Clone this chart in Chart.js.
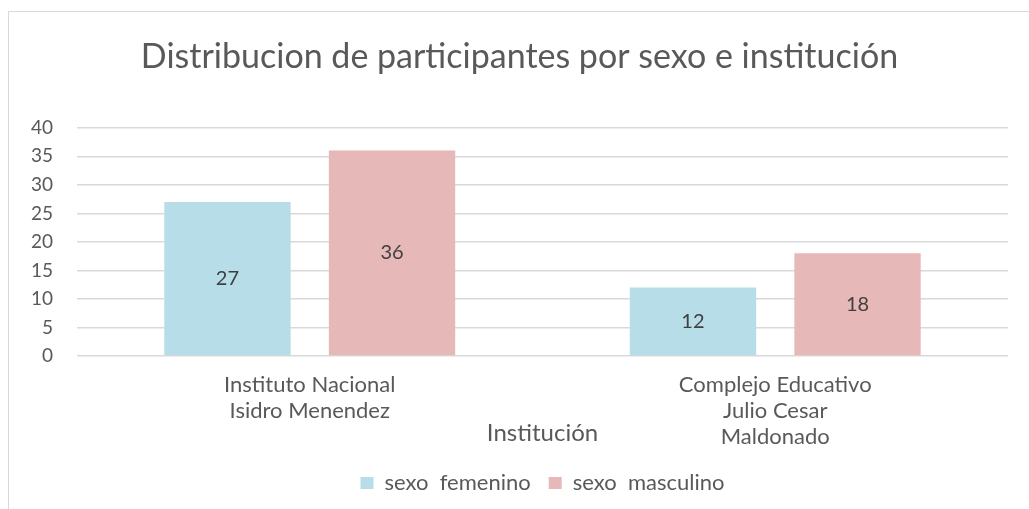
<!DOCTYPE html>
<html>
<head>
<meta charset="utf-8">
<script src="https://cdn.jsdelivr.net/npm/chart.js@4"></script>
<style>
  html, body { margin: 0; padding: 0; background: #fff; overflow: hidden; }
  #frame { position: absolute; left: 8px; top: 11px; width: 1100px; height: 600px; border: 1.5px solid #d9d9d9; }
  #wrap { position: absolute; left: 0; top: 0; width: 1029px; height: 509px; }
</style>
</head>
<body>
<div id="frame"></div>
<div id="wrap"><canvas id="chart"></canvas></div>
<script>
const categories = [
  ["Instituto Nacional", "Isidro Menendez"],
  ["Complejo Educativo", "Julio Cesar", "Maldonado"]
];
const femenino = [27, 12];
const masculino = [36, 18];
const yTicks = [0, 5, 10, 15, 20, 25, 30, 35, 40];

const textColor = "#595959";
const fontFamily = "Lato, 'Open Sans', sans-serif";

// value labels in the middle of every bar
const barLabels = {
  id: "barLabels",
  afterDatasetsDraw(chart) {
    const ctx = chart.ctx;
    ctx.save();
    ctx.font = "20px " + fontFamily;
    ctx.fillStyle = "#404040";
    ctx.textAlign = "center";
    ctx.textBaseline = "middle";
    chart.data.datasets.forEach((ds, i) => {
      chart.getDatasetMeta(i).data.forEach((bar, j) => {
        const mid = (bar.y + bar.base) / 2;
        ctx.fillText(ds.data[j], bar.x, mid);
      });
    });
    ctx.restore();
  }
};

new Chart(document.getElementById("chart"), {
  type: "bar",
  data: {
    labels: categories,
    datasets: [
      { label: "sexo  femenino", data: femenino, backgroundColor: "#b7dde8" },
      { label: "sexo  masculino", data: masculino, backgroundColor: "#e6b9b8" }
    ]
  },
  options: {
    responsive: true,
    maintainAspectRatio: false,
    animation: false,
    categoryPercentage: 0.707,
    barPercentage: 0.768,
    layout: { padding: { left: 31, right: 21, top: 0, bottom: 5 } },
    plugins: {
      title: {
        display: true,
        text: "Distribucion de participantes por sexo e institución",
        color: textColor,
        font: { family: fontFamily, size: 34, weight: "normal" },
        padding: { top: 37, bottom: 50 }
      },
      legend: {
        position: "bottom",
        fullSize: false,
        labels: {
          color: textColor,
          font: { family: fontFamily, size: 22 },
          boxWidth: 13,
          boxHeight: 12,
          padding: 18
        }
      },
      tooltip: { enabled: false }
    },
    scales: {
      x: {
        grid: { display: false, drawTicks: false },
        border: { display: false },
        ticks: {
          color: textColor,
          font: { family: fontFamily, size: 22, lineHeight: 1.1818 },
          padding: 16,
          maxRotation: 0
        },
        title: {
          display: true,
          text: "Institución",
          color: textColor,
          font: { family: fontFamily, size: 24 },
          padding: { top: -47.4, bottom: 6.6 }
        }
      },
      y: {
        min: 0,
        max: 40,
        afterBuildTicks(scale) { scale.ticks = yTicks.map(v => ({ value: v })); },
        afterFit(scale) { scale.width = 46; },
        grid: { color: "#d9d9d9", lineWidth: 1.5, drawTicks: false },
        border: { display: false },
        ticks: {
          color: textColor,
          font: { family: fontFamily, size: 19 },
          padding: 24
        }
      }
    }
  },
  plugins: [barLabels]
});
</script>
</body>
</html>
